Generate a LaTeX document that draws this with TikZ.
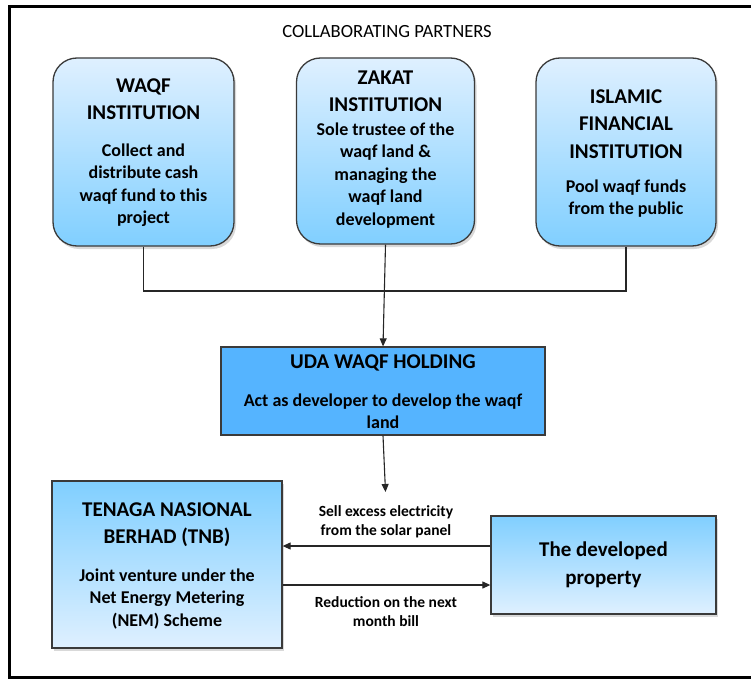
\documentclass[tikz,border=0pt]{standalone}
\usepackage{fontspec}
\setmainfont{Carlito}
\usetikzlibrary{shadows,arrows.meta}
\definecolor{lightb}{HTML}{DFF0FF}
\definecolor{midb}{HTML}{80CFFF}
\definecolor{udab}{HTML}{55B4FF}
\definecolor{edgec}{HTML}{3A3A3A}
\begin{document}
\begin{tikzpicture}[x=1pt,y=-1pt,
  shad/.style={drop shadow={opacity=0.3,shadow xshift=2pt,shadow yshift=-3pt}},
  partner/.style={draw=edgec,line width=1.3pt,rounded corners=24pt,top color=lightb,bottom color=midb,inner sep=0pt,shad},
  lowbox/.style={draw=edgec,line width=1.3pt,top color=midb,bottom color=lightb,inner sep=0pt,shad},
  udabox/.style={draw=edgec,line width=1.3pt,fill=udab,inner sep=0pt},
  head/.style={align=center,inner sep=0pt,font=\fontsize{21}{27.5}\selectfont\bfseries},
  body/.style={align=center,inner sep=0pt,font=\fontsize{18}{22.5}\selectfont\bfseries},
  lab/.style={align=center,inner sep=0pt,font=\fontsize{15.5}{19}\selectfont\bfseries},
  conn/.style={draw=black!85,line width=1.1pt},
  arr/.style={conn,-{Triangle[length=8pt,width=7pt]}}
]
\useasboundingbox (0,0) rectangle (751,679);
\draw[line width=3pt] (9.5,7) rectangle (790,677);

\node[inner sep=0pt,font=\fontsize{18.6}{22}\selectfont] (title) at (387,32) {COLLABORATING PARTNERS};

% partner boxes
\node[partner,minimum width=181pt,minimum height=188pt] (waqf) at (143.5,152) {};
\node[partner,minimum width=178pt,minimum height=186pt] (zakat) at (385.5,151) {};
\node[partner,minimum width=180pt,minimum height=188pt] (ifi) at (626,152) {};

\node[head] (waqfh) at (143.5,99) {WAQF\\INSTITUTION};
\node[body] (waqfb) at (143.5,185) {Collect and\\distribute cash\\waqf fund to this\\project};
\node[head] (zakath) at (385.5,91.5) {ZAKAT\\INSTITUTION};
\node[body] (zakatb) at (385.5,175.5) {Sole trustee of the\\waqf land \&\\managing the\\waqf land\\development};
\node[head] (ifih) at (626,124) {ISLAMIC\\FINANCIAL\\INSTITUTION};
\node[body] (ifib) at (626,198.5) {Pool waqf funds\\from the public};

% UDA
\node[udabox,minimum width=324pt,minimum height=88pt] (uda) at (383,391) {};
\node[head] (udah) at (383,363) {UDA WAQF HOLDING};
\node[body] (udab) at (383,411) {Act as developer to develop the waqf\\land};

% lower boxes
\node[lowbox,minimum width=230pt,minimum height=167pt] (tnb) at (167,564.5) {};
\node[head] (tnbh) at (167,524.5) {TENAGA NASIONAL\\BERHAD (TNB)};
\node[body] (tnbb) at (167,599) {Joint venture under the\\Net Energy Metering\\(NEM) Scheme};
\node[lowbox,minimum width=225pt,minimum height=98pt] (prop) at (603.5,565) {};
\node[head,font=\fontsize{21}{28}\selectfont\bfseries] (proph) at (603.5,564.5) {The developed\\property};

% connectors
\coordinate (bus) at (385.5,291);
\draw[conn] (waqf.south) |- (bus) -| (ifi.south);
\draw[arr] (zakat.south) -- (uda.north);
\coordinate (down) at (385.5,492);
\draw[arr] (uda.south) -- (down);

\coordinate (ya) at (0,546);
\coordinate (yb) at (0,585);
\draw[arr] (prop.west |- ya) -- (tnb.east |- ya);
\draw[arr] (tnb.east |- yb) -- (prop.west |- yb);
\node[lab] (sell) at (386,521.5) {Sell excess electricity\\from the solar panel};
\node[lab] (red) at (386,611.5) {Reduction on the next\\month bill};
\end{tikzpicture}
\end{document}
